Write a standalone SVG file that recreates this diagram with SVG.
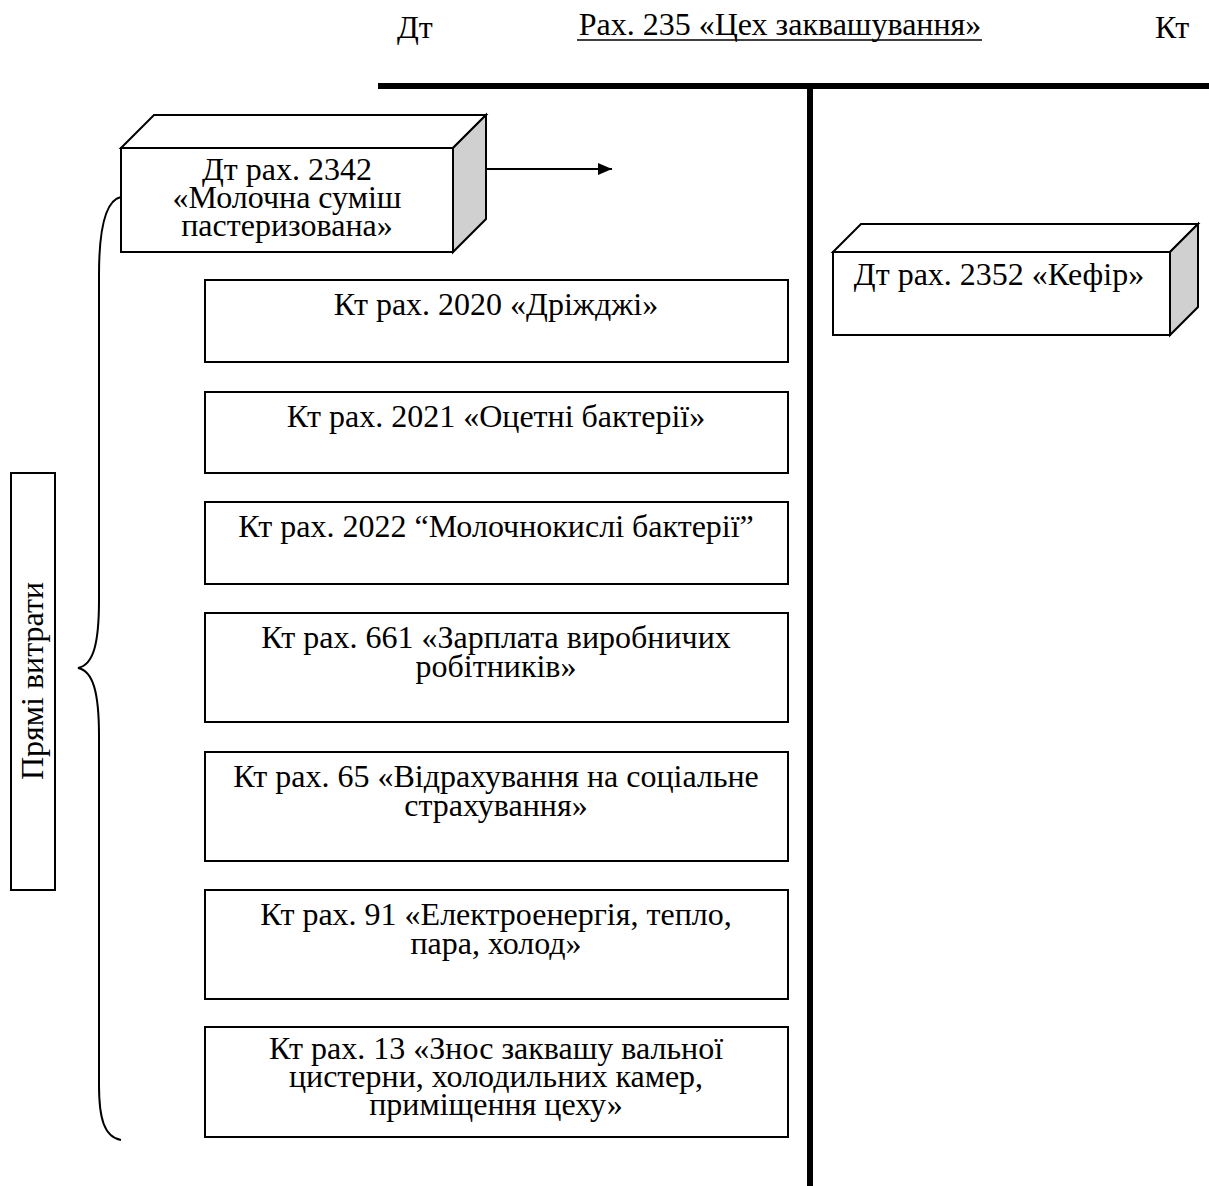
<svg xmlns="http://www.w3.org/2000/svg" width="1209" height="1186" viewBox="0 0 1209 1186">
  <defs>
    <style>
      .t { font-family: "Liberation Serif", "Times New Roman", serif; font-size: 32px; fill: #000; }
      .c { text-anchor: middle; }
      .box { fill: #fff; stroke: #000; stroke-width: 2; }
      .side { fill: #d0d0d0; stroke: #000; stroke-width: 2; stroke-linejoin: miter; }
      .top { fill: #fff; stroke: #000; stroke-width: 2; stroke-linejoin: miter; }
      .thick { stroke: #000; stroke-width: 6; fill: none; }
      .line { stroke: #000; stroke-width: 2; fill: none; }
    </style>
    <marker id="arrow" viewBox="0 0 14 12" refX="14" refY="6" markerWidth="14" markerHeight="12" markerUnits="userSpaceOnUse" orient="auto">
      <path d="M0,0 L14,6 L0,12 Z" fill="#000"/>
    </marker>
  </defs>

  <rect width="1209" height="1186" fill="#fff"/>

  <!-- T-account header -->
  <g id="header">
    <text class="t" x="397" y="38">Дт</text>
    <text class="t c" x="780" y="35">Рах. 235 «Цех заквашування»</text>
    <line x1="577" y1="40" x2="982" y2="40" stroke="#000" stroke-width="1.5"/>
    <text class="t" x="1155" y="38">Кт</text>
  </g>

  <!-- T-account frame -->
  <g id="t-account">
    <line class="thick" x1="378" y1="86" x2="1209" y2="86"/>
    <line class="thick" x1="810" y1="86" x2="810" y2="1186"/>
  </g>

  <!-- Debit 2342 block -->
  <g id="dt-2342">
    <polygon class="top" points="121,148 154,115 486,115 453,148"/>
    <polygon class="side" points="453,148 486,115 486,219 453,252"/>
    <rect class="box" x="121" y="148" width="332" height="104"/>
    <text class="t c" x="287" y="180">Дт рах. 2342</text>
    <text class="t c" x="287" y="208">«Молочна суміш</text>
    <text class="t c" x="287" y="236">пастеризована»</text>
  </g>

  <!-- Debit 2352 block -->
  <g id="dt-2352">
    <polygon class="top" points="833,252 861,224 1198,224 1170,252"/>
    <polygon class="side" points="1170,252 1198,224 1198,307 1170,335"/>
    <rect class="box" x="833" y="252" width="337" height="83"/>
    <text class="t c" x="999" y="285">Дт рах. 2352 «Кефір»</text>
  </g>

  <!-- Credit accounts -->
  <g id="kt-2020">
    <rect class="box" x="205" y="280" width="583" height="82"/>
    <text class="t c" x="496" y="315">Кт рах. 2020 «Дріжджі»</text>
  </g>
  <g id="kt-2021">
    <rect class="box" x="205" y="392" width="583" height="81"/>
    <text class="t c" x="496" y="427">Кт рах. 2021 «Оцетні бактерії»</text>
  </g>
  <g id="kt-2022">
    <rect class="box" x="205" y="502" width="583" height="82"/>
    <text class="t c" x="496" y="537">Кт рах. 2022 “Молочнокислі бактерії”</text>
  </g>
  <g id="kt-661">
    <rect class="box" x="205" y="613" width="583" height="109"/>
    <text class="t c" x="496" y="648">Кт рах. 661 «Зарплата виробничих</text>
    <text class="t c" x="496" y="677">робітників»</text>
  </g>
  <g id="kt-65">
    <rect class="box" x="205" y="752" width="583" height="109"/>
    <text class="t c" x="496" y="787">Кт рах. 65 «Відрахування на соціальне</text>
    <text class="t c" x="496" y="816">страхування»</text>
  </g>
  <g id="kt-91">
    <rect class="box" x="205" y="890" width="583" height="109"/>
    <text class="t c" x="496" y="925">Кт рах. 91 «Електроенергія, тепло,</text>
    <text class="t c" x="496" y="954">пара, холод»</text>
  </g>
  <g id="kt-13">
    <rect class="box" x="205" y="1027" width="583" height="110"/>
    <text class="t c" x="496" y="1059">Кт рах. 13 «Знос заквашу вальної</text>
    <text class="t c" x="496" y="1087">цистерни, холодильних камер,</text>
    <text class="t c" x="496" y="1115">приміщення цеху»</text>
  </g>

  <!-- Direct costs label -->
  <g id="direct-costs">
    <rect class="box" x="11" y="473" width="44" height="417"/>
    <text class="t c" transform="translate(43,681) rotate(-90)" x="0" y="0">Прямі витрати</text>
  </g>

  <!-- Connectors -->
  <g id="connectors">
    <line class="line" x1="486" y1="169" x2="612" y2="169" marker-end="url(#arrow)"/>
    <path class="line" d="M121,197 C106,200 99,228 99,275 L99,600 C99,645 93,665 78,668 C93,671 99,692 99,736 L99,1085 C99,1118 104,1137 121,1140"/>
  </g>
</svg>
